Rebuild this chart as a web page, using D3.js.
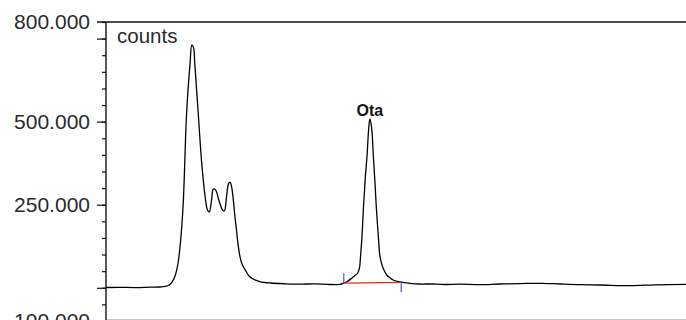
<!DOCTYPE html>
<html>
<head>
<meta charset="utf-8">
<script src="https://cdn.jsdelivr.net/npm/d3@7"></script>
<style>
  html, body { margin: 0; padding: 0; background: #fff; }
  svg { display: block; font-family: "Liberation Sans", Arial, sans-serif; }
</style>
</head>
<body>
<div id="chart"></div>
<script>
// chromatogram trace — time (min) vs counts
const times = [0, 0.24, 0.50, 0.76, 0.93, 1.02, 1.09, 1.14, 1.19, 1.24, 1.28, 1.33, 1.39, 1.45, 1.48, 1.51,
  1.53, 1.59, 1.65, 1.71, 1.75, 1.78, 1.82, 1.85, 1.89, 1.95, 2.01, 2.04, 2.08, 2.11, 2.14, 2.16,
  2.19, 2.22, 2.25, 2.28, 2.31, 2.35, 2.40, 2.45, 2.51, 2.59, 2.66, 2.83, 3.09, 3.34, 3.60, 3.86,
  4.03, 4.10, 4.16, 4.23, 4.29, 4.34, 4.37, 4.39, 4.41, 4.44, 4.47, 4.50, 4.53, 4.55, 4.58, 4.61,
  4.64, 4.66, 4.70, 4.72, 4.75, 4.79, 4.84, 4.90, 4.95, 5.07, 5.24, 5.41, 5.59, 5.84, 6.10, 6.45,
  6.79, 7.14, 7.53, 7.83, 8.17, 8.52, 9.03, 9.47, 10.00];
const counts = [900, 1500, 600, 1800, 2400, 3900, 8400, 17500, 35500, 71600, 129000, 249000, 526000, 677000, 731000, 722000,
  677000, 526000, 376000, 273000, 234000, 228000, 264000, 297000, 294000, 261000, 234000, 231000, 276000, 312000, 318000, 309000,
  273000, 219000, 174000, 126000, 94000, 69000, 54000, 39000, 29000, 22000, 18000, 14400, 12000, 10800, 12000, 9900,
  10500, 14400, 19000, 28000, 37000, 44500, 60000, 99000, 144000, 244000, 330000, 395000, 481000, 508000, 481000, 395000,
  309000, 244000, 144000, 99000, 74000, 54000, 38500, 29500, 23500, 17500, 13500, 11400, 11400, 9900, 10800, 9300,
  11400, 12600, 13500, 11400, 9300, 8400, 6300, 9000, 10500];

// integrated peak
const peakName = 'Ota';
const peakApex = [4.55, 508000];
const peakStart = [4.10, 14000];
const peakEnd = [5.09, 16500];

// y axis
const yMajor = [750000, 500000, 250000, 0];
const yMinor = d3.range(-100000, 800001, 50000);
const yLabelValues = [800000, 500000, 250000, -100000];
const yLabels = ['800.000', '500.000', '250.000', '100.000'];

const W = 686, H = 320;
const m = {top: 22, right: 0, bottom: -1, left: 106};
const x = d3.scaleLinear().domain([0, 10]).range([m.left, W - m.right]);
const y = d3.scaleLinear().domain([-100000, 800000]).range([H - m.bottom, m.top]);

const svg = d3.select('#chart').append('svg').attr('width', W).attr('height', H);

// bottom grey frame line
svg.append('line').attr('x1', m.left).attr('x2', W).attr('y1', 319.5).attr('y2', 319.5)
  .attr('stroke', '#c8c8c8').attr('stroke-width', 1);

// minor + major ticks
svg.append('g').attr('transform', `translate(${m.left},0)`)
  .call(d3.axisLeft(y).tickValues(yMinor).tickSize(4).tickFormat(''))
  .call(g => g.select('.domain').remove())
  .call(g => g.selectAll('line').attr('stroke', '#111').attr('stroke-width', 1.2));
svg.append('g').attr('transform', `translate(${m.left},0)`)
  .call(d3.axisLeft(y).tickValues(yMajor).tickSize(9).tickFormat(''))
  .call(g => g.select('.domain').remove())
  .call(g => g.selectAll('line').attr('stroke', '#111').attr('stroke-width', 1.2));

// axis line + top line
svg.append('line').attr('x1', m.left).attr('x2', m.left).attr('y1', y(800000)).attr('y2', H)
  .attr('stroke', '#111').attr('stroke-width', 1.4);
svg.append('line').attr('x1', m.left - 9).attr('x2', W).attr('y1', y(800000)).attr('y2', y(800000))
  .attr('stroke', '#111').attr('stroke-width', 1.6);

// tick labels
svg.selectAll('.ylab').data(yLabelValues).join('text').attr('class', 'ylab')
  .attr('x', 90).attr('y', d => y(d)).attr('dy', '0.35em').attr('text-anchor', 'end')
  .style('font-size', '21px').style('fill', '#2a2a2a')
  .text((d, i) => yLabels[i]);

svg.append('text').attr('x', 117).attr('y', 43)
  .style('font-size', '20.5px').style('fill', '#2a2a2a').text('counts');

// trace
const pts = times.map((t, i) => [t, counts[i]]);
svg.append('path').datum(pts)
  .attr('fill', 'none').attr('stroke', '#000').attr('stroke-width', 1.3)
  .attr('d', d3.line().x(d => x(d[0])).y(d => y(d[1])).curve(d3.curveCatmullRom.alpha(0.5)));

// integration baseline + markers
svg.append('line').attr('x1', x(peakStart[0])).attr('y1', y(peakStart[1]))
  .attr('x2', x(peakEnd[0])).attr('y2', y(peakEnd[1]))
  .attr('stroke', '#e8231e').attr('stroke-width', 1.2);
svg.append('line').attr('x1', x(peakStart[0])).attr('x2', x(peakStart[0]))
  .attr('y1', y(peakStart[1])).attr('y2', y(peakStart[1]) - 10)
  .attr('stroke', '#3a5cc8').attr('stroke-width', 1.2);
svg.append('line').attr('x1', x(peakEnd[0])).attr('x2', x(peakEnd[0]))
  .attr('y1', y(peakEnd[1])).attr('y2', y(peakEnd[1]) + 10)
  .attr('stroke', '#3a5cc8').attr('stroke-width', 1.2);

svg.append('text').attr('x', x(peakApex[0])).attr('y', y(peakApex[1]) - 3)
  .attr('text-anchor', 'middle').style('font-size', '16px').style('font-weight', 'bold')
  .style('fill', '#111').text(peakName);
</script>
</body>
</html>
